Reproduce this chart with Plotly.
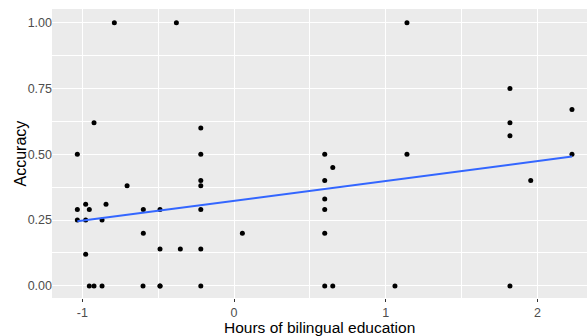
import numpy as np
import plotly.graph_objects as go

# Hours of bilingual education (standardised) and accuracy
hours = [-0.789, -0.380, -0.923, -1.033, -0.219, -0.219,
         -0.219, -0.219, -0.705, -0.978, -0.844, -1.033, -0.954, -0.598, -0.488, -0.219,
         -1.033, -0.978, -0.870, -0.598, -0.488, -0.354, -0.219, -0.978,
         -0.954, -0.923, -0.870, -0.600, -0.488, -0.488, -0.219, 0.055,
         1.140, 0.598, 1.140, 1.819, 1.819, 1.819, 2.228, 2.228,
         0.651, 0.598, 0.598, 0.598, 0.598, 0.598, 0.651, 1.061, 1.819, 1.956]
accuracy = [1.00, 1.00, 0.62, 0.50, 0.60, 0.50,
            0.40, 0.38, 0.38, 0.31, 0.31, 0.29, 0.29, 0.29, 0.29, 0.29,
            0.25, 0.25, 0.25, 0.20, 0.14, 0.14, 0.14, 0.12,
            0.00, 0.00, 0.00, 0.00, 0.00, 0.00, 0.00, 0.20,
            1.00, 0.50, 0.50, 0.75, 0.62, 0.57, 0.67, 0.50,
            0.45, 0.40, 0.33, 0.29, 0.20, 0.00, 0.00, 0.00, 0.00, 0.40]

x_ticks = [-1, 0, 1, 2]
y_ticks = [0.0, 0.25, 0.5, 0.75, 1.0]
y_tick_labels = ["0.00", "0.25", "0.50", "0.75", "1.00"]
x_title = "Hours of bilingual education"
y_title = "Accuracy"

xa = np.array(hours)
ya = np.array(accuracy)
slope, intercept = np.polyfit(xa, ya, 1)
fit_x = np.array([xa.min(), xa.max()])
fit_y = intercept + slope * fit_x

fig = go.Figure()
fig.add_trace(go.Scatter(x=hours, y=accuracy, mode="markers",
                         marker=dict(color="black", size=5), showlegend=False))
fig.add_trace(go.Scatter(x=fit_x, y=fit_y, mode="lines",
                         line=dict(color="#3366FF", width=2), showlegend=False))

axis_common = dict(
    showline=False, zeroline=False,
    gridcolor="white", gridwidth=1.1,
    tickfont=dict(family="Liberation Sans, Arial, sans-serif", size=12.5, color="#4D4D4D"),
)

fig.update_layout(
    width=587, height=336,
    margin=dict(l=52, r=0, t=9, b=38),
    paper_bgcolor="white", plot_bgcolor="#EBEBEB",
    font=dict(family="Liberation Sans, Arial, sans-serif"),
    xaxis=dict(
        range=[-1.2, 2.327], tickvals=x_ticks, ticktext=[str(v) for v in x_ticks],
        ticks="outside", ticklen=3, tickcolor="#333333", tickwidth=1,
        ticklabelstandoff=0,
        minor=dict(showgrid=True, gridcolor="white", gridwidth=0.5, tickvals=[-0.5, 0.5, 1.5]),
        **axis_common),
    yaxis=dict(
        range=[-0.046, 1.052], tickvals=y_ticks, ticktext=y_tick_labels,
        ticks="", ticklabelstandoff=-1,
        minor=dict(showgrid=True, gridcolor="white", gridwidth=0.5,
                   tickvals=[0.125, 0.375, 0.625, 0.875]),
        **axis_common),
    annotations=[
        dict(text=x_title, xref="paper", yref="paper", x=0.5, y=0,
             xanchor="center", yanchor="middle", yshift=-29.5, showarrow=False,
             font=dict(size=15.5, color="black")),
        dict(text=y_title, xref="paper", yref="paper", x=0, y=0.5,
             xanchor="center", yanchor="middle", xshift=-32, textangle=-90,
             showarrow=False, font=dict(size=16, color="black")),
    ],
)

fig.write_html("out.html", config={"displayModeBar": False},
               post_script="document.body.style.margin='0';document.body.style.overflow='hidden';")
